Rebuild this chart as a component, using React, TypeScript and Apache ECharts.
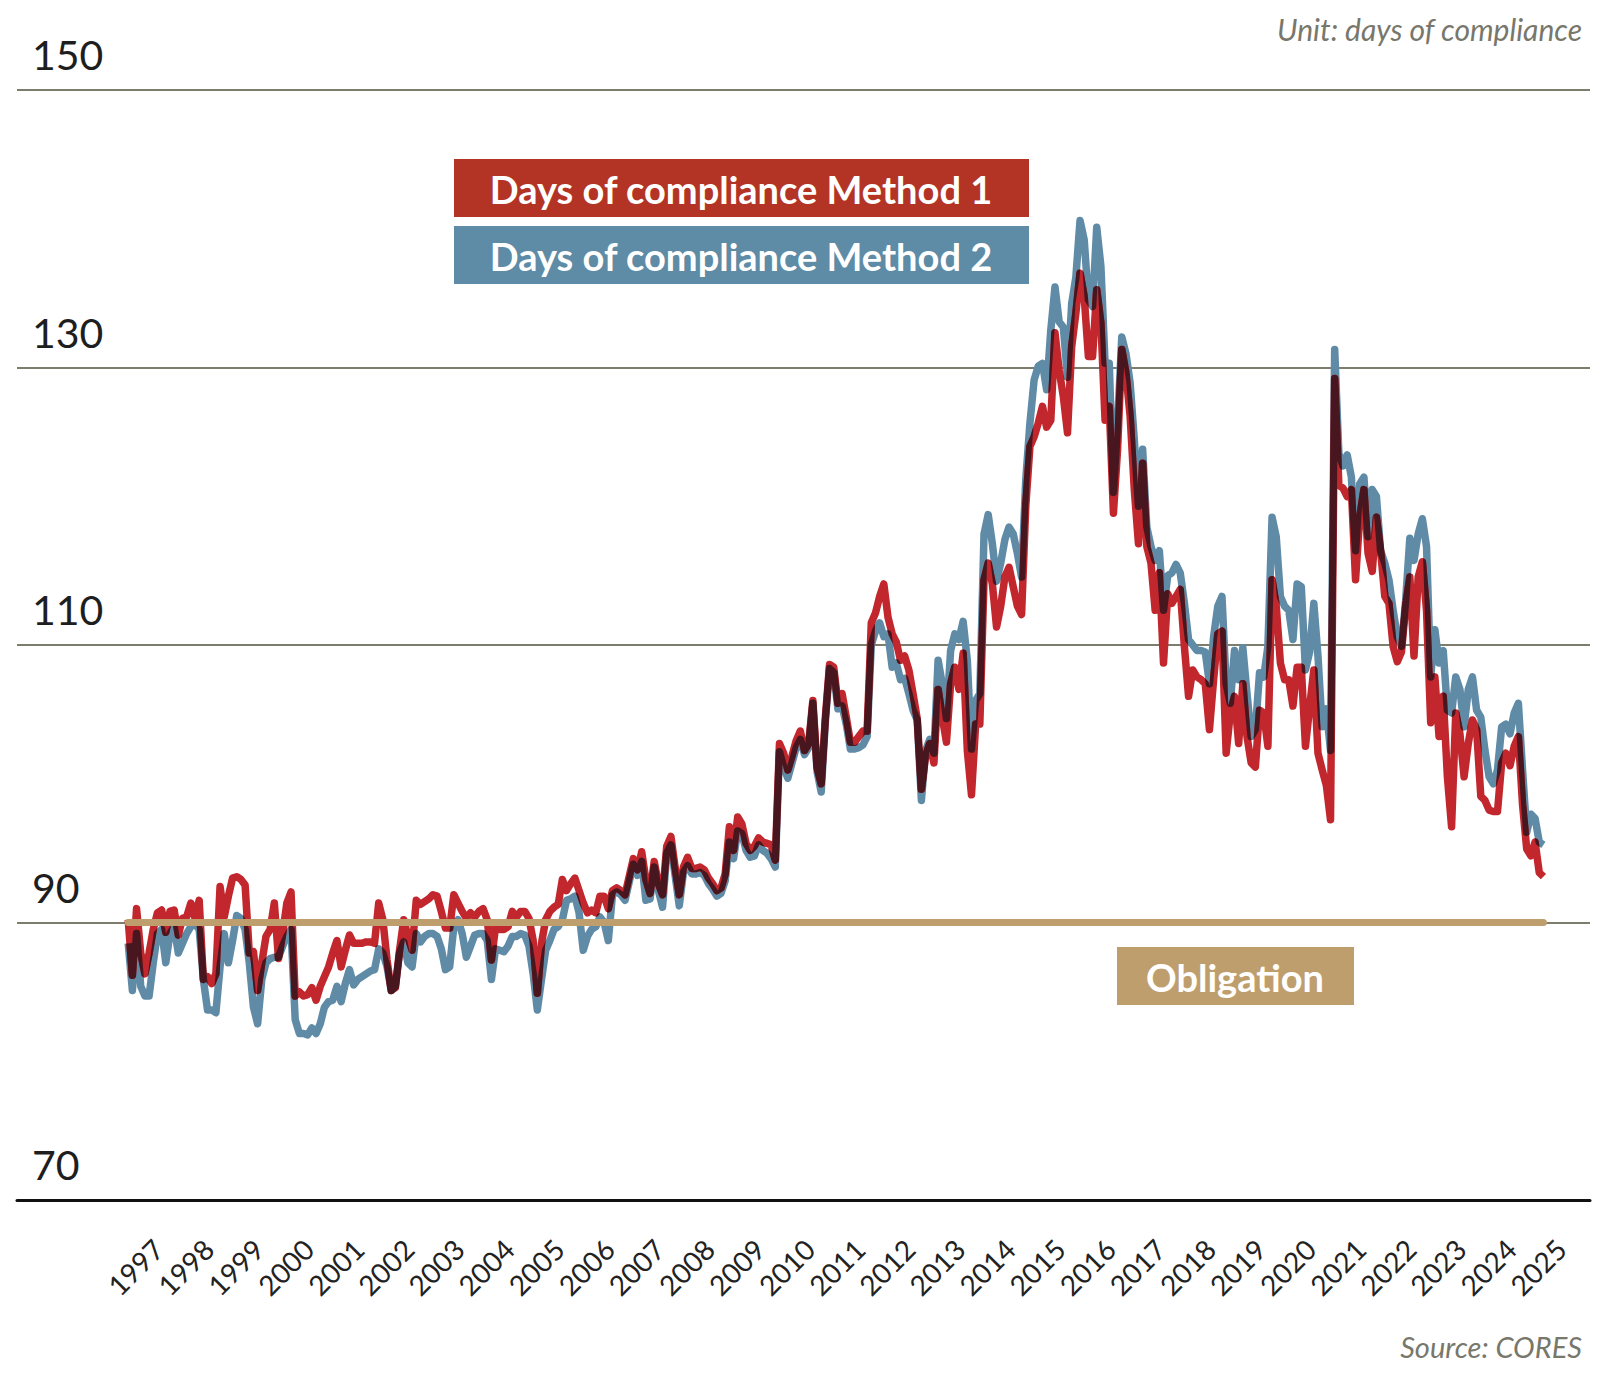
import { useEffect, useRef } from "react";
import * as echarts from "echarts";

// Monthly observations, January 1997 onwards
const START_YEAR = 1997;

const YEAR_LABELS = [
  1997, 1998, 1999, 2000, 2001, 2002, 2003, 2004, 2005, 2006, 2007, 2008, 2009, 2010,
  2011, 2012, 2013, 2014, 2015, 2016, 2017, 2018, 2019, 2020, 2021, 2022, 2023, 2024, 2025,
];

// Days of compliance, Method 1
const METHOD_1 = [
  90.2, 86.2, 91.0, 87.8, 86.3, 87.8, 89.5, 90.7, 90.9, 89.3, 90.8, 90.9,
  89.1, 90.3, 90.4, 91.4, 90.3, 91.6, 85.9, 86.1, 85.6, 86.3, 92.6, 90.4,
  91.9, 93.2, 93.3, 93.1, 92.7, 87.8, 87.9, 85.1, 87.1, 89.0, 89.5, 91.4,
  87.4, 89.2, 91.4, 92.2, 84.7, 85.0, 84.7, 84.8, 85.3, 84.4, 85.4, 86.1,
  86.8, 87.8, 88.7, 86.8, 88.0, 89.1, 88.5, 88.5, 88.5, 88.6, 88.6, 88.5,
  91.4, 90.2, 87.3, 85.1, 85.3, 88.0, 90.2, 89.0, 88.0, 91.6, 91.3, 91.5,
  91.7, 92.0, 91.9, 90.8, 89.6, 89.6, 92.0, 91.4, 90.8, 90.3, 90.7, 90.4,
  90.8, 91.0, 90.2, 87.3, 89.7, 89.5, 89.5, 89.7, 90.8, 90.4, 90.8, 90.8,
  90.3, 88.7, 84.9, 88.5, 90.2, 90.8, 91.1, 91.3, 93.1, 92.3, 92.8, 93.2,
  92.3, 91.4, 90.7, 90.9, 90.7, 91.9, 91.9, 91.0, 92.3, 92.5, 92.3, 92.0,
  93.3, 94.6, 93.8, 95.1, 93.1, 92.1, 94.4, 92.8, 92.0, 95.5, 96.2, 94.0,
  92.0, 94.0, 94.7, 93.9, 93.9, 94.0, 93.8, 93.2, 92.8, 92.3, 92.5, 93.5,
  96.9, 95.2, 97.6, 97.1, 95.7, 95.2, 95.5, 96.1, 95.8, 95.7, 95.6, 94.5,
  102.9, 102.2, 101.0, 102.0, 103.1, 103.8, 102.4, 102.9, 106.0, 101.2, 100.0, 104.8,
  108.6, 108.4, 105.8, 106.5, 104.8, 103.0, 103.0, 103.4, 103.8, 103.8, 111.6, 112.3,
  113.5, 114.4, 112.0, 110.8, 110.2, 108.9, 109.2, 108.2, 106.5, 104.7, 99.6, 102.0,
  102.9, 101.5, 106.8, 104.8, 103.0, 107.2, 108.4, 106.8, 109.4, 102.4, 99.2, 104.3,
  104.3, 114.7, 115.9, 114.4, 111.3, 112.8, 114.9, 115.6, 114.2, 112.8, 112.2, 120.0,
  124.3, 125.0, 126.0, 127.2, 125.7, 126.2, 132.5, 129.8, 127.9, 125.3, 131.5, 133.9,
  136.8, 135.1, 130.8, 130.8, 135.6, 133.2, 126.2, 127.2, 119.5, 124.1, 131.3, 129.6,
  126.5, 121.2, 117.3, 123.1, 117.1, 115.9, 112.5, 115.2, 108.7, 113.7, 113.0, 113.5,
  114.0, 109.9, 106.3, 108.2, 107.7, 107.5, 107.2, 103.9, 107.5, 110.8, 111.0, 102.2,
  105.1, 106.3, 102.9, 107.2, 103.4, 101.5, 101.2, 105.3, 105.1, 102.7, 114.7, 112.8,
  108.7, 107.5, 107.5, 105.6, 108.4, 108.4, 102.7, 105.5, 108.2, 102.2, 101.0, 99.9,
  97.4, 129.2, 121.5, 121.3, 120.7, 121.2, 114.7, 119.2, 121.2, 116.6, 115.3, 119.2,
  116.8, 113.5, 113.0, 109.9, 108.8, 109.5, 112.8, 114.9, 109.2, 114.9, 116.0, 112.5,
  104.4, 107.7, 103.4, 106.3, 100.5, 96.9, 105.1, 103.6, 100.5, 102.9, 104.6, 103.9,
  99.1, 98.8, 98.1, 98.0, 98.0, 101.5, 102.2, 101.3, 102.7, 103.4, 98.5, 95.3,
  94.8, 95.8, 93.6, 93.3,
];

// Days of compliance, Method 2
const METHOD_2 = [
  88.5, 85.1, 89.2, 85.4, 84.7, 84.7, 87.1, 89.2, 89.5, 87.1, 89.2, 89.7,
  87.8, 88.5, 89.2, 89.7, 89.9, 89.5, 85.9, 83.7, 83.7, 83.5, 86.8, 89.2,
  87.1, 88.7, 90.5, 90.3, 89.5, 87.1, 83.9, 82.7, 85.9, 87.1, 87.4, 87.5,
  87.5, 88.3, 89.0, 89.5, 83.0, 82.0, 82.0, 81.9, 82.4, 82.0, 82.7, 83.9,
  84.3, 84.4, 85.4, 84.3, 85.6, 86.6, 85.5, 85.9, 86.1, 86.3, 86.5, 86.6,
  88.1, 87.8, 86.8, 85.1, 85.4, 87.8, 88.6, 87.1, 86.8, 89.2, 88.6, 89.0,
  89.2, 89.2, 89.0, 88.1, 86.6, 86.8, 89.7, 90.2, 89.2, 87.5, 88.3, 89.1,
  89.2, 89.2, 88.7, 85.9, 88.1, 88.0, 87.9, 88.3, 89.0, 89.0, 89.2, 89.1,
  88.3, 86.3, 83.7, 85.9, 88.0, 88.7, 89.5, 89.7, 90.2, 91.6, 91.7, 91.9,
  90.7, 88.0, 89.0, 89.5, 89.7, 90.4, 90.0, 88.7, 92.0, 92.2, 92.0, 91.6,
  92.9, 94.2, 93.4, 94.4, 91.6, 91.7, 94.0, 92.3, 91.1, 95.0, 95.6, 93.4,
  91.2, 93.6, 94.1, 93.5, 93.5, 93.6, 93.4, 92.8, 92.4, 91.9, 92.1, 93.0,
  95.8, 94.6, 96.6, 96.4, 95.2, 94.7, 94.8, 95.6, 95.2, 95.0, 94.6, 94.0,
  102.3, 101.2, 100.4, 101.5, 102.6, 103.2, 102.1, 102.6, 105.8, 100.9, 99.4, 104.5,
  108.3, 108.0, 105.4, 105.6, 104.3, 102.5, 102.5, 102.6, 102.8, 103.4, 110.0, 111.0,
  111.6, 110.6, 110.8, 108.4, 108.7, 107.5, 107.6, 106.5, 105.3, 104.6, 98.8, 102.4,
  103.2, 102.2, 108.9, 107.2, 104.7, 109.6, 110.8, 110.4, 111.7, 108.9, 102.5, 106.0,
  106.5, 118.0, 119.4, 117.3, 114.6, 115.9, 117.6, 118.5, 118.0, 116.6, 114.9, 121.9,
  126.0, 129.1, 130.1, 130.3, 128.4, 132.7, 135.8, 133.3, 132.9, 129.3, 134.6, 136.5,
  140.6, 139.2, 134.9, 134.4, 140.1, 137.3, 130.3, 130.3, 121.0, 126.0, 132.2, 131.0,
  128.9, 124.8, 120.0, 124.1, 118.5, 117.1, 116.1, 116.8, 112.5, 115.0, 115.2, 115.8,
  115.2, 113.0, 110.4, 110.0, 109.6, 109.6, 109.5, 107.2, 110.6, 112.8, 113.5, 107.2,
  105.8, 109.6, 107.5, 109.8, 106.5, 103.4, 103.9, 108.0, 107.7, 109.9, 119.2, 117.8,
  113.5, 112.8, 112.5, 110.4, 114.4, 114.2, 108.2, 109.5, 113.0, 109.2, 104.1, 105.4,
  102.4, 131.3, 123.8, 122.9, 123.7, 122.1, 116.8, 121.6, 122.1, 117.8, 121.2, 120.7,
  116.8, 115.9, 114.7, 112.5, 110.6, 109.9, 113.2, 117.7, 116.1, 118.0, 119.1, 117.1,
  107.7, 111.1, 108.7, 109.6, 105.3, 105.1, 107.7, 106.8, 104.1, 106.8, 107.7, 105.3,
  104.8, 102.4, 100.5, 100.0, 101.0, 104.1, 104.3, 103.6, 105.1, 105.8, 101.0, 96.5,
  97.8, 97.5, 95.8, 95.6,
];

const OBLIGATION = 90;
const Y_MIN = 70;
const Y_MAX = 150;
const Y_STEP = 20;

const SERIES_1_NAME = "Days of compliance Method 1";
const SERIES_2_NAME = "Days of compliance Method 2";
const OBLIGATION_NAME = "Obligation";
const UNIT_TEXT = "Unit: days of compliance";
const SOURCE_TEXT = "Source: CORES";

const RED = "#c1272d";
const BLUE = "#5f8ba7";
const OVERLAP = "#48161e";
const TAN = "#bf9e6e";
const FONT = "Lato, 'Noto Sans', sans-serif";
const SVG_NS = "http://www.w3.org/2000/svg";

const toPoints = (values: number[]) => values.map((v, i) => [START_YEAR + i / 12, v]);

export default function App() {
  const ref = useRef<HTMLDivElement | null>(null);

  useEffect(() => {
    if (!ref.current) return;
    const host = ref.current;
    const chart = echarts.init(host, null, { renderer: "svg" });
    const lastX = START_YEAR + (METHOD_1.length - 1) / 12;

    // Where the two lines' strokes overlap, darken them (multiply look):
    // the Method 1 stroke, masked by the Method 2 stroke, drawn in a dark tone.
    const applyOverlap = () => {
      const svg = host.querySelector("svg");
      if (!svg || svg.querySelector("#overlap-mask")) return;
      const paths = Array.from(svg.querySelectorAll("path"));
      const red = paths.find((p) => (p.getAttribute("stroke") || "").toLowerCase() === RED);
      const blue = paths.find((p) => (p.getAttribute("stroke") || "").toLowerCase() === BLUE);
      if (!red || !blue || !red.parentNode) return;
      let defs = svg.querySelector("defs");
      if (!defs) {
        defs = document.createElementNS(SVG_NS, "defs");
        svg.insertBefore(defs, svg.firstChild);
      }
      const mask = document.createElementNS(SVG_NS, "mask");
      mask.setAttribute("id", "overlap-mask");
      mask.setAttribute("maskUnits", "userSpaceOnUse");
      mask.setAttribute("x", "-5000");
      mask.setAttribute("y", "-5000");
      mask.setAttribute("width", "20000");
      mask.setAttribute("height", "20000");
      const maskPath = blue.cloneNode(false) as SVGPathElement;
      maskPath.removeAttribute("id");
      maskPath.setAttribute("stroke", "#ffffff");
      maskPath.setAttribute("fill", "none");
      maskPath.setAttribute("stroke-opacity", "1");
      mask.appendChild(maskPath);
      defs.appendChild(mask);
      const dark = red.cloneNode(false) as SVGPathElement;
      dark.removeAttribute("id");
      dark.setAttribute("stroke", OVERLAP);
      dark.setAttribute("mask", "url(#overlap-mask)");
      red.parentNode.insertBefore(dark, red.nextSibling);
    };

    chart.on("finished", applyOverlap);

    chart.setOption({
      animation: false,
      backgroundColor: "#ffffff",
      grid: { left: 17, right: 18, top: 90, bottom: 175, containLabel: false },
      xAxis: {
        type: "value",
        min: 1994.78,
        max: 2026.18,
        axisLine: { show: true, lineStyle: { color: "#111111", width: 3 } },
        axisTick: { show: false },
        splitLine: { show: false },
        axisLabel: {
          customValues: YEAR_LABELS.map((y) => y + 0.6),
          formatter: (v: number) => String(Math.floor(v + 1e-6)),
          rotate: 45,
          margin: 44,
          fontSize: 28,
          color: "#222222",
          fontFamily: FONT,
        },
      },
      yAxis: {
        type: "value",
        min: Y_MIN,
        max: Y_MAX,
        interval: Y_STEP,
        axisLine: { show: false },
        axisTick: { show: false },
        splitLine: { show: true, lineStyle: { color: "#7d7d6e", width: 2 } },
        axisLabel: {
          inside: true,
          margin: 15,
          verticalAlign: "bottom",
          padding: [0, 0, 15, 0],
          fontSize: 41,
          color: "#1e1e1e",
          fontFamily: FONT,
          showMinLabel: true,
          showMaxLabel: true,
        },
      },
      series: [
        {
          name: SERIES_2_NAME,
          type: "line",
          data: toPoints(METHOD_2),
          symbol: "none",
          silent: true,
          clip: false,
          z: 2,
          lineStyle: { color: BLUE, width: 7.5, join: "round" },
        },
        {
          name: SERIES_1_NAME,
          type: "line",
          data: toPoints(METHOD_1),
          symbol: "none",
          silent: true,
          clip: false,
          z: 3,
          lineStyle: { color: RED, width: 7.5, join: "round" },
        },
        {
          name: OBLIGATION_NAME,
          type: "line",
          data: [
            [START_YEAR, OBLIGATION],
            [lastX, OBLIGATION],
          ],
          symbol: "none",
          silent: true,
          clip: false,
          z: 4,
          lineStyle: { color: TAN, width: 7, cap: "round" },
        },
      ],
      graphic: [
        { type: "rect", left: 454, top: 159, shape: { width: 575, height: 58 }, style: { fill: "#b33424" }, silent: true },
        {
          type: "text", x: 741, y: 189, silent: true,
          style: { text: SERIES_1_NAME, fill: "#ffffff", font: `bold 38px ${FONT}`, align: "center", verticalAlign: "middle" },
        },
        { type: "rect", left: 454, top: 226, shape: { width: 575, height: 58 }, style: { fill: "#5e8ba5" }, silent: true },
        {
          type: "text", x: 741, y: 256, silent: true,
          style: { text: SERIES_2_NAME, fill: "#ffffff", font: `bold 38px ${FONT}`, align: "center", verticalAlign: "middle" },
        },
        { type: "rect", left: 1117, top: 947, shape: { width: 237, height: 58 }, style: { fill: TAN }, silent: true },
        {
          type: "text", x: 1235, y: 977, silent: true,
          style: { text: OBLIGATION_NAME, fill: "#ffffff", font: `bold 38px ${FONT}`, align: "center", verticalAlign: "middle" },
        },
        {
          type: "text", x: 1582, y: 29, silent: true,
          style: { text: UNIT_TEXT, fill: "#77776b", font: `italic 30px ${FONT}`, align: "right", verticalAlign: "middle" },
        },
        {
          type: "text", x: 1582, y: 1346, silent: true,
          style: { text: SOURCE_TEXT, fill: "#77776b", font: `italic 29px ${FONT}`, align: "right", verticalAlign: "middle" },
        },
      ],
    });

    applyOverlap();
    const t1 = window.setTimeout(applyOverlap, 30);

    return () => {
      window.clearTimeout(t1);
      chart.dispose();
    };
  }, []);

  return (
    <div
      ref={ref}
      style={{ position: "fixed", left: 0, top: 0, width: 1608, height: 1375, background: "#ffffff" }}
    />
  );
}
